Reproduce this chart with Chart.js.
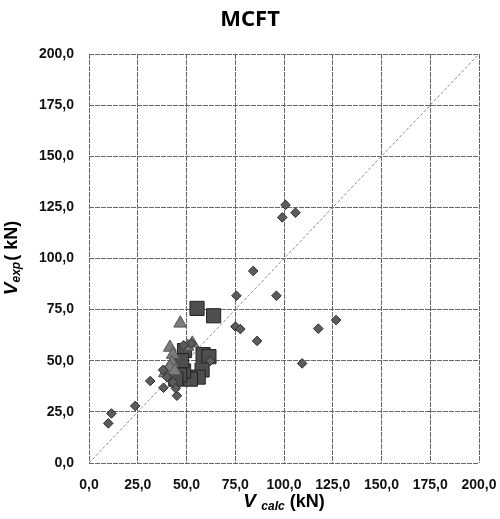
<!DOCTYPE html>
<html>
<head>
<meta charset="utf-8">
<script src="https://cdn.jsdelivr.net/npm/chart.js@4.4.0/dist/chart.umd.min.js"></script>
<style>
  body { margin: 0; background: #fff; }
  #wrap { width: 500px; height: 519px; }
</style>
</head>
<body>
<div id="wrap"><canvas id="chart" width="500" height="519"></canvas></div>
<script>
// tick values, both axes
const axisTicks = [0, 25, 50, 75, 100, 125, 150, 175, 200];

// diamond markers
const diamondX = [9.9, 11.5, 23.7, 31.4, 38.2, 45.1, 38, 40, 43, 44.5, 48.5, 52.5, 62.2, 75.1, 77.6, 75.6, 84.2, 86.2, 96.1, 99.1, 100.8, 105.9, 109.3, 117.6, 126.7];
const diamondY = [19.4, 24.2, 27.9, 40.1, 36.8, 32.9, 45.5, 42, 39.5, 36.5, 57.5, 58.5, 49.9, 66.7, 65.5, 81.8, 93.9, 59.7, 81.8, 120.1, 126.2, 122.4, 48.7, 65.7, 69.9];

// square markers
const squareX = [55.4, 63.9, 58.5, 61.5, 49, 58, 56, 52, 48.5, 47.5, 46.5, 44.5];
const squareY = [75.6, 72, 53, 52, 55, 45.5, 42, 41, 45, 50, 43, 41];

// triangle markers
const triangleX = [46.8, 41.5, 43, 50.5, 53, 42.5, 39, 41.5, 44];
const triangleY = [68.3, 56.5, 53, 57, 58.5, 49, 44, 47, 45];

// 1:1 reference line
const lineX = [0, 200];
const lineY = [0, 200];

function toPoints(xs, ys) {
    return xs.map((x, i) => ({ x: x, y: ys[i] }));
}

function fmt(v) {
    return v.toFixed(1).replace('.', ',');
}

const textPlugin = {
    id: 'texts',
    afterDraw(chart) {
        const ctx = chart.ctx;
        const area = chart.chartArea;
        ctx.save();
        ctx.fillStyle = '#000';

        // title
        ctx.font = 'bold 22px "Noto Sans"';
        ctx.textAlign = 'center';
        ctx.textBaseline = 'middle';
        ctx.fillText('MCFT', 250, 20);

        ctx.textAlign = 'left';
        ctx.textBaseline = 'alphabetic';

        // x axis title: V calc (kN)
        const mainF = 'bold italic 19px "Liberation Sans"';
        const subF = 'bold italic 12px "Liberation Sans"';
        const unitF = 'bold 18px "Liberation Sans"';
        ctx.font = mainF;
        const wV = ctx.measureText('V ').width;
        ctx.font = subF;
        const wCalc = ctx.measureText('calc').width;
        ctx.font = unitF;
        const wUnit = ctx.measureText(' (kN)').width;
        let x0 = (area.left + area.right) / 2 - (wV + wCalc + wUnit) / 2;
        ctx.font = mainF;
        ctx.fillText('V ', x0, 507);
        ctx.font = subF;
        ctx.fillText('calc', x0 + wV, 510);
        ctx.font = unitF;
        ctx.fillText(' (kN)', x0 + wV + wCalc, 507);

        // y axis title: V exp ( kN), rotated
        ctx.font = mainF;
        const wV2 = ctx.measureText('V').width;
        ctx.font = subF;
        const wExp = ctx.measureText('exp').width;
        ctx.font = unitF;
        const wUnit2 = ctx.measureText('( kN)').width;
        ctx.translate(17, (area.top + area.bottom) / 2);
        ctx.rotate(-Math.PI / 2);
        let y0 = -(wV2 + wExp + wUnit2) / 2;
        ctx.font = mainF;
        ctx.fillText('V', y0, 0);
        ctx.font = subF;
        ctx.fillText('exp', y0 + wV2, 3);
        ctx.font = unitF;
        ctx.fillText('( kN)', y0 + wV2 + wExp + 1, 0);
        ctx.restore();
    }
};

const axisOpts = {
    type: 'linear',
    min: 0,
    max: 200,
    afterBuildTicks: scale => {
        scale.ticks = axisTicks.map(v => ({ value: v }));
    },
    ticks: {
        color: '#111',
        font: { family: '"Liberation Sans"', size: 14, weight: 'bold' },
        callback: v => fmt(v)
    },
    grid: {
        color: '#666',
        lineWidth: 1,
        drawTicks: false
    },
    border: { display: false, dash: [5, 1] }
};

new Chart(document.getElementById('chart'), {
    type: 'scatter',
    data: {
        datasets: [
            {
                label: 'diamonds',
                data: toPoints(diamondX, diamondY),
                pointStyle: 'rectRot',
                pointRadius: 4.8,
                backgroundColor: '#5c5c5c',
                borderColor: '#2e2e2e',
                borderWidth: 1
            },
            {
                label: 'triangles',
                data: toPoints(triangleX, triangleY),
                pointStyle: 'triangle',
                pointRadius: 7.5,
                backgroundColor: '#7c7c7c',
                borderColor: '#555',
                borderWidth: 1
            },
            {
                label: 'squares',
                data: toPoints(squareX, squareY),
                pointStyle: 'rect',
                pointRadius: 10,
                backgroundColor: '#4e4e4e',
                borderColor: '#222',
                borderWidth: 1
            },
            {
                label: '1:1',
                type: 'line',
                data: toPoints(lineX, lineY),
                borderColor: '#8a8a8a',
                borderWidth: 1,
                borderDash: [3, 2],
                pointRadius: 0,
                fill: false
            }
        ]
    },
    options: {
        responsive: false,
        animation: false,
        layout: { padding: { top: 54, right: 21, left: 0, bottom: 0 } },
        plugins: {
            legend: { display: false },
            title: { display: false },
            tooltip: { enabled: false }
        },
        scales: {
            x: Object.assign({}, axisOpts, {
                position: 'bottom',
                ticks: Object.assign({}, axisOpts.ticks, { padding: 14 }),
                afterFit: scale => {
                    scale.height = 56;
                    scale.paddingLeft = 0;
                    scale.paddingRight = 0;
                }
            }),
            y: Object.assign({}, axisOpts, {
                position: 'left',
                ticks: Object.assign({}, axisOpts.ticks, { padding: 15 }),
                afterFit: scale => {
                    scale.width = 89;
                    scale.paddingTop = 0;
                    scale.paddingBottom = 0;
                }
            })
        }
    },
    plugins: [textPlugin]
});
</script>
</body>
</html>
